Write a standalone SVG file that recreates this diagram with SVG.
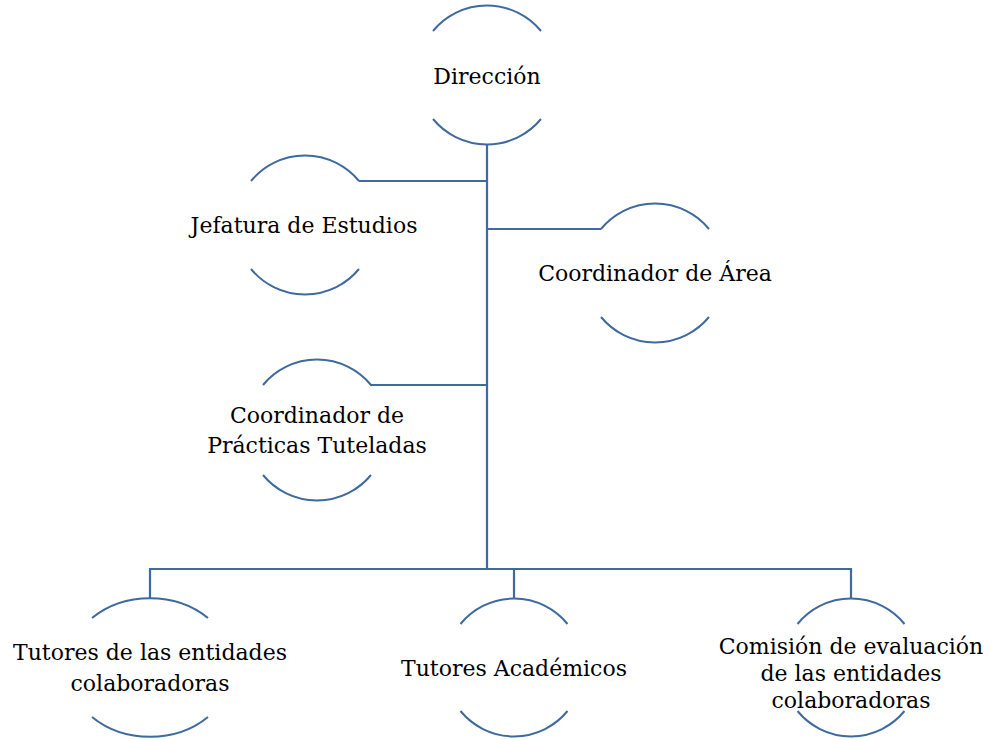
<svg xmlns="http://www.w3.org/2000/svg" width="991" height="740" viewBox="0 0 991 740">
<style>
.arc{fill:none;stroke:#3f6a9f;stroke-width:2}
.conn{fill:none;stroke:#3f6a9f;stroke-width:2.2}
.t{font-family:"DejaVu Serif","Liberation Serif",serif;font-size:22px;fill:#000;text-anchor:middle}
</style>
<rect width="991" height="740" fill="#fff"/>
<g id="connectors">
<path class="conn" d="M487,145 V569"/>
<path class="conn" d="M359,181 H487"/>
<path class="conn" d="M487,229 H601"/>
<path class="conn" d="M370,385 H487"/>
<path class="conn" d="M150,598 V569 H851 V598"/>
<path class="conn" d="M514,569 V598"/>
</g>
<g id="direccion">
<path class="arc" d="M433,31 A70,70 0 0 1 541,31"/>
<path class="arc" d="M433,119 A70,70 0 0 0 541,119"/>
<text class="t" x="487" y="84">Dirección</text>
</g>
<g id="jefatura">
<path class="arc" d="M251,181 A70,70 0 0 1 359,181"/>
<path class="arc" d="M251,269 A70,70 0 0 0 359,269"/>
<text class="t" x="304" y="233">Jefatura de Estudios</text>
</g>
<g id="coordinador-area">
<path class="arc" d="M601,229 A70,70 0 0 1 709,229"/>
<path class="arc" d="M601,317 A70,70 0 0 0 709,317"/>
<text class="t" x="655" y="281">Coordinador de Área</text>
</g>
<g id="coordinador-practicas">
<path class="arc" d="M263,385 A70,70 0 0 1 371,385"/>
<path class="arc" d="M263,475 A70,70 0 0 0 371,475"/>
<text class="t" x="317" y="423">Coordinador de</text>
<text class="t" x="317" y="453">Prácticas Tuteladas</text>
</g>
<g id="tutores-entidades">
<path class="arc" d="M92,618 A83,69.5 0 0 1 208,618"/>
<path class="arc" d="M92,717 A83,69.5 0 0 0 208,717"/>
<text class="t" x="150" y="660">Tutores de las entidades</text>
<text class="t" x="150" y="690.5">colaboradoras</text>
</g>
<g id="tutores-academicos">
<path class="arc" d="M460.5,624 A69,69 0 0 1 567.5,624"/>
<path class="arc" d="M460.5,711 A69,69 0 0 0 567.5,711"/>
<text class="t" x="514" y="675.5">Tutores Académicos</text>
</g>
<g id="comision">
<path class="arc" d="M797.5,624 A69,69 0 0 1 904.5,624"/>
<path class="arc" d="M797.5,711 A69,69 0 0 0 904.5,711"/>
<text class="t" x="851" y="654">Comisión de evaluación</text>
<text class="t" x="851" y="681">de las entidades</text>
<text class="t" x="851" y="708">colaboradoras</text>
</g>
</svg>
